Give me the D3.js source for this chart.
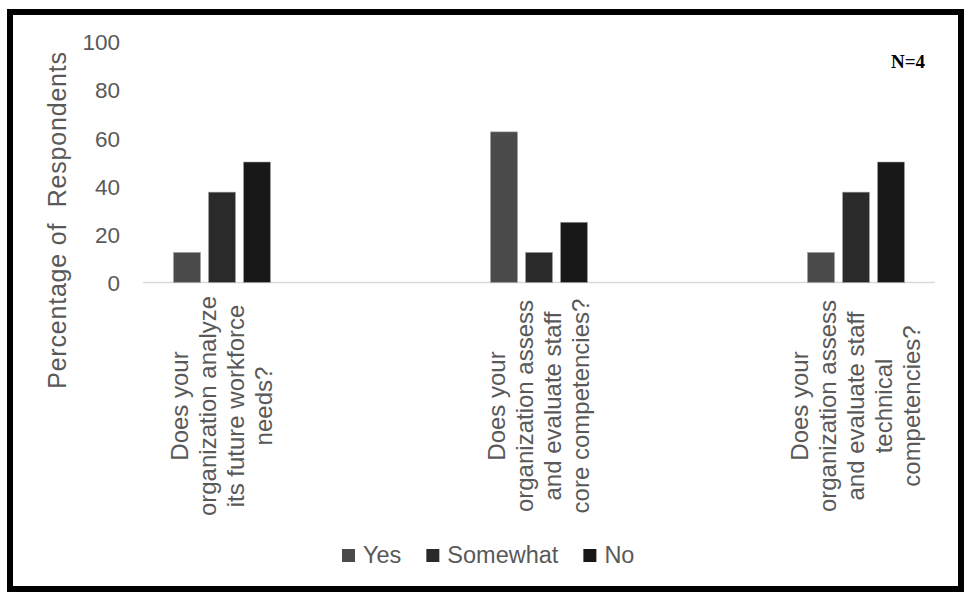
<!DOCTYPE html>
<html>
<head>
<meta charset="utf-8">
<script src="https://cdn.jsdelivr.net/npm/d3@7"></script>
<style>
  html, body { margin: 0; padding: 0; background: #fff; }
  svg { display: block; }
  text { font-family: "Liberation Sans", Arial, sans-serif; }
</style>
</head>
<body>
<svg id="chart" width="964" height="592"></svg>
<script>
// ---- data ----
const categories = [
  ["Does your", "organization analyze", "its future workforce", "needs?"],
  ["Does your", "organization assess", "and evaluate staff", "core competencies?"],
  ["Does your", "organization assess", "and evaluate staff", "technical", "competencies?"]
];
const seriesNames = ["Yes", "Somewhat", "No"];
const yesValues = [12.5, 62.5, 12.5];
const somewhatValues = [37.5, 12.5, 37.5];
const noValues = [50, 25, 50];
const yTicks = [0, 20, 40, 60, 80, 100];
const yTitle = "Percentage of  Respondents";
const noteText = "N=4";
const seriesColors = ["#4b4b4b", "#2a2a2a", "#181818"];

const seriesValues = [yesValues, somewhatValues, noValues];

const svg = d3.select("#chart");

// border frame
svg.append("rect")
  .attr("x", 10).attr("y", 12)
  .attr("width", 951).attr("height", 577)
  .attr("fill", "#fff")
  .attr("stroke", "#000")
  .attr("stroke-width", 6);

// scales
const catIds = categories.map((c, i) => i);
const x0 = d3.scalePoint().domain(catIds).range([222, 856]);
const x1 = d3.scaleBand().domain(seriesNames).range([-52.5, 52.5])
  .paddingInner(0.2286).paddingOuter(0.1143);
const y = d3.scaleLinear().domain([0, 100]).range([282.5, 41.5]);

// y axis (labels only)
const yAxis = d3.axisLeft(y).tickValues(yTicks).tickSize(0).tickPadding(0);
const gy = svg.append("g").attr("transform", "translate(120,0)").call(yAxis);
gy.select(".domain").remove();
gy.selectAll("text")
  .attr("fill", "#595959")
  .style("font-size", "22.5px")
  .style("font-family", "'Liberation Sans', Arial, sans-serif")
  .attr("dy", "0.36em");

// baseline
svg.append("line")
  .attr("x1", 143).attr("x2", 935)
  .attr("y1", y(0)).attr("y2", y(0))
  .attr("stroke", "#d9d9d9").attr("stroke-width", 1.5);

// bars
const groups = svg.append("g").selectAll("g")
  .data(catIds).join("g")
  .attr("transform", d => `translate(${x0(d)},0)`);

groups.selectAll("rect")
  .data(ci => seriesNames.map((s, si) => ({ s, si, v: seriesValues[si][ci] })))
  .join("rect")
  .attr("x", d => x1(d.s))
  .attr("width", x1.bandwidth())
  .attr("y", d => y(d.v))
  .attr("height", d => y(0) - y(d.v))
  .attr("fill", d => seriesColors[d.si])
  .attr("stroke", "#a6a6a6")
  .attr("stroke-width", 0.6);

// category labels (rotated, multi-line, centered)
const lineH = 28;
const labelCY = 406;
categories.forEach((lines, ci) => {
  const g = svg.append("g")
    .attr("transform", `translate(${x0(ci)},${labelCY}) rotate(-90)`);
  const n = lines.length;
  lines.forEach((ln, li) => {
    g.append("text")
      .attr("x", 0)
      .attr("y", (li - (n - 1) / 2) * lineH)
      .attr("dy", "0.35em")
      .attr("text-anchor", "middle")
      .attr("fill", "#595959")
      .style("font-size", "24px")
      .text(ln);
  });
});

// y title
svg.append("text")
  .attr("transform", "translate(66,220) rotate(-90)")
  .attr("text-anchor", "middle")
  .attr("fill", "#595959")
  .style("font-size", "25px")
  .style("letter-spacing", "0.8px")
  .style("white-space", "pre")
  .attr("xml:space", "preserve")
  .text(yTitle);

// N=4 note
svg.append("text")
  .attr("x", 925).attr("y", 68)
  .attr("text-anchor", "end")
  .attr("fill", "#000")
  .style("font-family", "'Liberation Serif', 'Times New Roman', serif")
  .style("font-weight", "bold")
  .style("font-size", "19px")
  .text(noteText);

// legend
const legend = svg.append("g").attr("transform", "translate(342,0)");
let lx = 0;
seriesNames.forEach((s, i) => {
  legend.append("rect")
    .attr("x", lx).attr("y", 549)
    .attr("width", 13).attr("height", 13)
    .attr("fill", seriesColors[i]);
  const t = legend.append("text")
    .attr("x", lx + 21).attr("y", 563)
    .attr("fill", "#595959")
    .style("font-size", "23.5px")
    .text(s);
  lx += 21 + t.node().getComputedTextLength() + 25;
});
</script>
</body>
</html>
